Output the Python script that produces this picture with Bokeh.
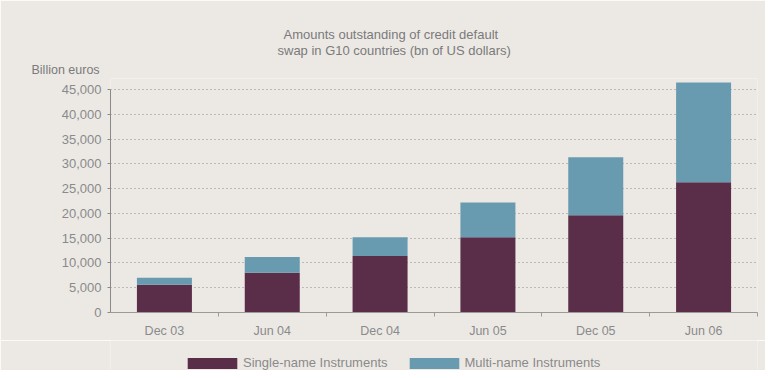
from bokeh.plotting import figure
from bokeh.layouts import column
from bokeh.models import (Range1d, FixedTicker, NumeralTickFormatter, Title, Legend, LegendItem)
from bokeh.embed import file_html
from bokeh.resources import INLINE

categories = ["Dec 03", "Jun 04", "Dec 04", "Jun 05", "Dec 05", "Jun 06"]
single_name = [5600, 8000, 11400, 15200, 19600, 26300]
multi_name = [1400, 3200, 3800, 7000, 11700, 20100]
y_ticks = [0, 5000, 10000, 15000, 20000, 25000, 30000, 35000, 40000, 45000]

BG = "#ECE9E5"
TXT = "#8A8A8A"
TTL = "#7A7A7A"
MAROON = "#5A2D48"
TEAL = "#689BAF"
FONT = "Liberation Sans"

xpos = [i + 0.5 for i in range(len(categories))]
data = dict(x=xpos, single=single_name, multi=multi_name, zero=[0] * len(categories))

# main chart: frame left 110, right 757, top 78, bottom 313
p = figure(width=765, height=340, output_backend="svg", toolbar_location=None,
           x_range=Range1d(0, len(categories)), y_range=Range1d(0, 45000 * 235 / 224),
           min_border_left=110, min_border_right=8, min_border_top=78, min_border_bottom=27)
p.background_fill_color = BG
p.border_fill_color = BG
p.outline_line_color = None

r = p.vbar_stack(["single", "multi"], x="x", width=0.51, source=data,
                 color=[MAROON, TEAL], line_color=None)

p.xaxis.ticker = FixedTicker(ticks=xpos, minor_ticks=list(range(1, len(categories) + 1)))
p.xaxis.major_label_overrides = {x: c for x, c in zip(xpos, categories)}
p.xaxis.major_tick_line_color = None
p.xaxis.minor_tick_line_color = "#9A9A9A"
p.xaxis.minor_tick_in = 0
p.xaxis.minor_tick_out = 4
p.xaxis.axis_line_color = "#9A9A9A"
p.xaxis.major_label_text_color = TXT
p.xaxis.major_label_text_font = FONT
p.xaxis.major_label_text_font_size = "12.5px"
p.xaxis.major_label_standoff = 5

p.yaxis.ticker = FixedTicker(ticks=y_ticks)
p.yaxis.formatter = NumeralTickFormatter(format="0,0")
p.yaxis.bounds = (0, 45000)
p.yaxis.axis_line_color = "#8A8A8A"
p.yaxis.major_tick_line_color = "#8A8A8A"
p.yaxis.major_tick_in = 0
p.yaxis.major_tick_out = 3
p.yaxis.minor_tick_line_color = None
p.yaxis.major_label_text_color = TXT
p.yaxis.major_label_text_font = FONT
p.yaxis.major_label_text_font_size = "13px"
p.yaxis.major_label_standoff = 6

p.xgrid.grid_line_color = None
p.ygrid.grid_line_color = "#8A8A8A"
p.ygrid.grid_line_dash = "1 3"
p.ygrid.grid_line_width = 1
p.ygrid.bounds = (0, 45000)

# texts above the frame (first added = closest to the frame)
p.add_layout(Title(text="Billion euros", align="left", offset=-79, standoff=4,
                   text_font=FONT, text_font_size="12.5px", text_font_style="normal",
                   text_color=TTL), "above")
p.add_layout(Title(text="swap in G10 countries (bn of US dollars)", align="left", offset=167,
                   standoff=1, text_font=FONT, text_font_size="13px", text_font_style="normal",
                   text_color=TTL), "above")
p.add_layout(Title(text="Amounts outstanding of credit default", align="left", offset=173,
                   standoff=-3.5, text_font=FONT, text_font_size="13px", text_font_style="normal",
                   text_color=TTL), "above")

# legend strip below the chart (its frame is aligned with the chart frame)
pl = figure(width=765, height=30, output_backend="svg", toolbar_location=None,
            x_range=Range1d(0, 1), y_range=Range1d(0, 1),
            x_axis_location=None, y_axis_location=None,
            min_border_left=0, min_border_right=0, min_border_top=0, min_border_bottom=0)
pl.background_fill_color = BG
pl.border_fill_color = BG
pl.outline_line_color = None
pl.grid.visible = False
l1 = pl.vbar(x="x", top="zero", width=0.01, source=data, fill_color=MAROON, line_color=None)
l2 = pl.vbar(x="x", top="zero", width=0.01, source=data, fill_color=TEAL, line_color=None)

legend = Legend(items=[LegendItem(label="Single-name Instruments", renderers=[l1]),
                       LegendItem(label="Multi-name Instruments", renderers=[l2])],
                orientation="horizontal", location=(71, 0),
                glyph_width=62, glyph_height=14, label_standoff=0, spacing=15,
                padding=0, margin=0, border_line_color=None, background_fill_alpha=0,
                label_text_font=FONT, label_text_font_size="13px", label_text_color=TXT,
                label_height=11)
pl.add_layout(legend, "center")

open("out.html", "w").write(file_html(column(p, pl, spacing=0), INLINE))
